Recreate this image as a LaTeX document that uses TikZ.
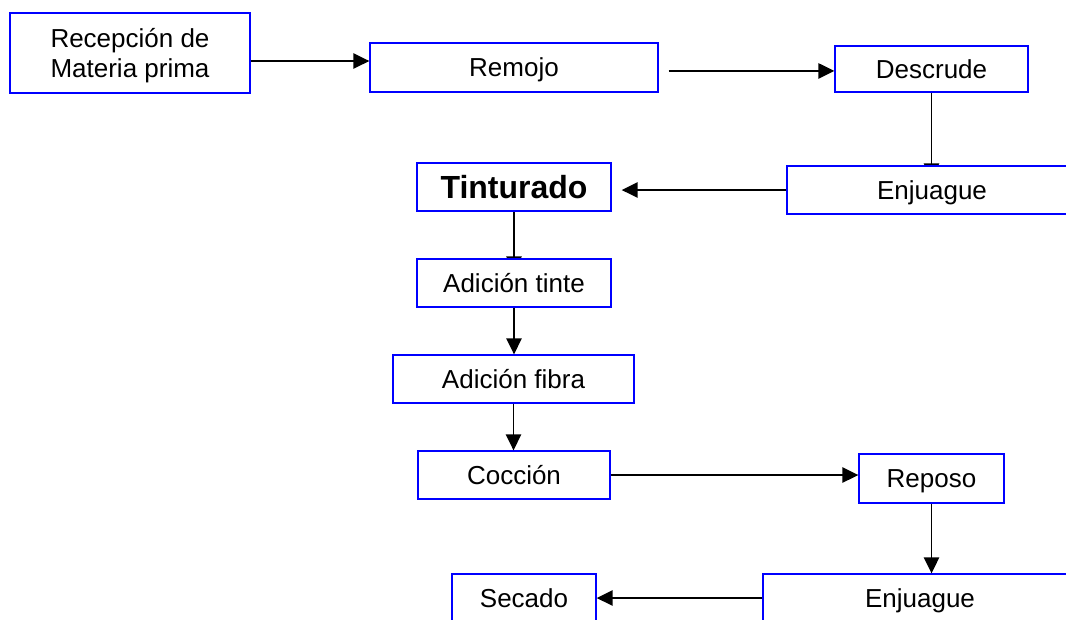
\documentclass[tikz,border=0pt]{standalone}
\usepackage{fontspec}
\setmainfont{Liberation Sans}
\usetikzlibrary{arrows.meta}
\pgfdeclarelayer{background}
\pgfsetlayers{background,main}

\tikzset{
	caja/.style={draw=blue, line width=1pt, fill=white, inner sep=0pt, align=center,
		text depth=0pt, font=\fontsize{19.5}{23}\selectfont},
	flecha/.style={line width=1.4pt, -{Triangle[length=12pt,width=11.5pt]}},
}

\begin{document}
\begin{tikzpicture}[x=0.75pt,y=-0.75pt]
	\useasboundingbox (0,0) rectangle (1066,619);

	\node[caja, minimum width=180pt, minimum height=60pt] (rec) at (130,53) {Recepción de\\Materia prima};
	\node[caja, minimum width=216pt, minimum height=36.75pt] (remojo) at (514,67.5) {Remojo};
	\node[caja, minimum width=144.75pt, minimum height=34.5pt] (descrude) at (931.5,69) {Descrude};
	\node[caja, minimum width=217.5pt, minimum height=36pt] (enj1) at (932,190) {Enjuague};
	\node[caja, minimum width=145.5pt, minimum height=36pt, font=\fontsize{24}{28}\bfseries\selectfont] (tint) at (514,187) {Tinturado};
	\node[caja, minimum width=145.5pt, minimum height=36pt] (adtinte) at (514,283) {Adición tinte};
	\node[caja, minimum width=180.75pt, minimum height=36pt] (adfibra) at (513.5,379) {Adición fibra};
	\node[caja, minimum width=144pt, minimum height=36pt] (coccion) at (514,475) {Cocción};
	\node[caja, minimum width=108.75pt, minimum height=36.75pt] (reposo) at (931.5,478.5) {Reposo};
	\node[caja, minimum width=235.5pt, minimum height=36pt] (enj2) at (920,598) {Enjuague};
	\node[caja, minimum width=108pt, minimum height=36pt] (secado) at (524,598) {Secado};

	% flechas
	\coordinate (a1) at ([yshift=-6pt]rec.east);
	\draw[flecha] (a1) -- (a1 -| remojo.west);
	\coordinate (a2) at ([xshift=7.5pt,yshift=-2.6pt]remojo.east);
	\draw[flecha] (a2) -- (a2 -| descrude.west);
	\coordinate (a3) at ([yshift=-10.5pt]enj1.north -| descrude.south);
	\coordinate (a4) at ([xshift=7.5pt]tint.east);
	\draw[flecha] (enj1.west) -- (enj1.west -| a4);
	\coordinate (a5) at ([yshift=-10.5pt]adtinte.north);
	\begin{pgfonlayer}{background}
		\draw[flecha] (descrude.south) -- (a3);
		\draw[flecha] (tint.south) -- (a5);
	\end{pgfonlayer}
	\draw[flecha] (adtinte.south) -- (adtinte.south |- adfibra.north);
	\draw[flecha] (adfibra.south) -- (adfibra.south |- coccion.north);
	\draw[flecha] (coccion.east) -- (coccion.east -| reposo.west);
	\draw[flecha] (reposo.south) -- (reposo.south |- enj2.north);
	\draw[flecha] (enj2.west) -- (enj2.west -| secado.east);
\end{tikzpicture}
\end{document}
